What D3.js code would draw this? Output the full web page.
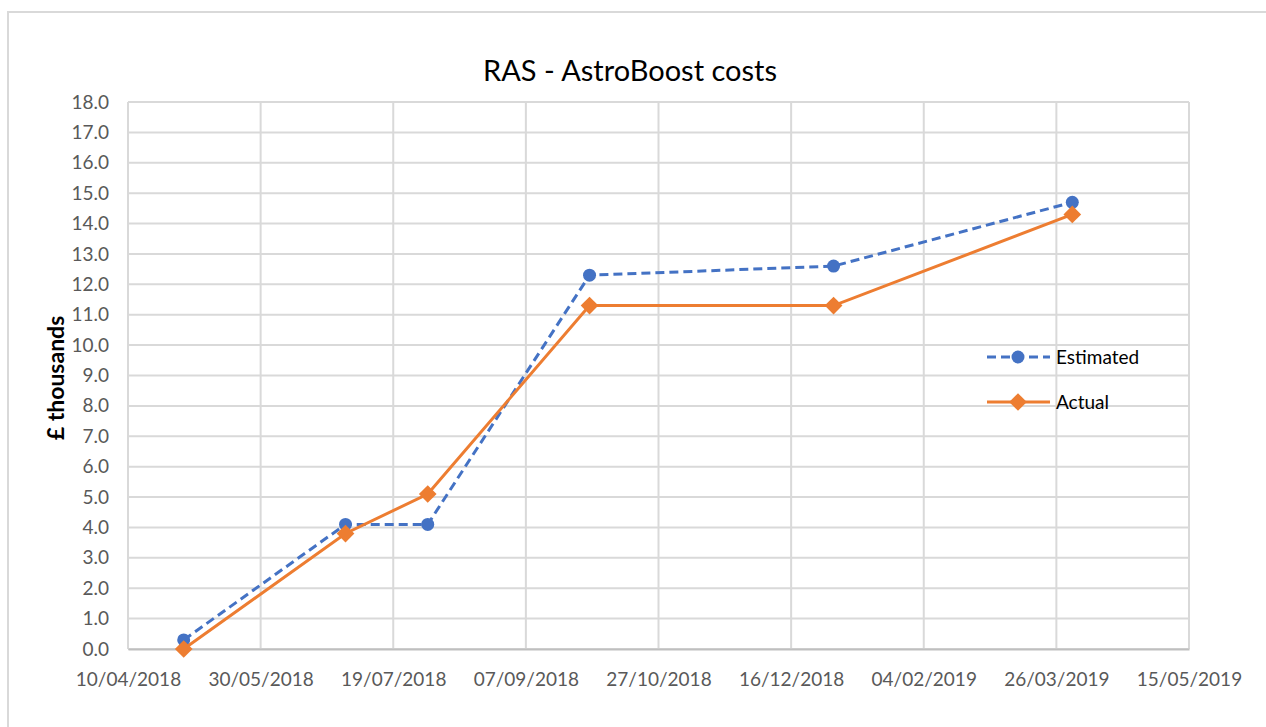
<!DOCTYPE html>
<html><head><meta charset="utf-8">
<script src="https://cdn.jsdelivr.net/npm/d3@7"></script>
<style>
html,body{margin:0;padding:0;background:#fff;}
svg{display:block;font-family:Lato, "Open Sans", sans-serif;}
</style></head>
<body><svg id="c" width="1266" height="727"></svg>
<script>
const dates = ["01/05/2018","01/07/2018","01/08/2018","01/10/2018","01/01/2019","01/04/2019"];
const estimated = [0.3, 4.1, 4.1, 12.3, 12.6, 14.7];
const actual = [0.0, 3.8, 5.1, 11.3, 11.3, 14.3];
const xTickLabels = ["10/04/2018","30/05/2018","19/07/2018","07/09/2018","27/10/2018","16/12/2018","04/02/2019","26/03/2019","15/05/2019"];
const yTicks = [0,1,2,3,4,5,6,7,8,9,10,11,12,13,14,15,16,17,18];
const seriesNames = ["Estimated","Actual"];

const parse = d3.timeParse("%d/%m/%Y");
const fmt = d3.timeFormat("%d/%m/%Y");
const svg = d3.select("#c");

// outer border
svg.append("rect").attr("x",8).attr("y",12).attr("width",1266).attr("height",727)
  .attr("fill","none").attr("stroke","#d9d9d9").attr("stroke-width",2);

const L=128, R=1189, T=102, B=649;
const x = d3.scaleTime().domain([parse(xTickLabels[0]), parse(xTickLabels[xTickLabels.length-1])]).range([L,R]);
const y = d3.scaleLinear().domain([0,18]).range([B,T]);

// gridlines
const g = svg.append("g");
g.selectAll("line.h").data(yTicks).enter().append("line")
  .attr("x1",L).attr("x2",R).attr("y1",d=>y(d)).attr("y2",d=>y(d))
  .attr("stroke","#d9d9d9").attr("stroke-width",2);
g.selectAll("line.v").data(xTickLabels.map(parse)).enter().append("line")
  .attr("x1",d=>x(d)).attr("x2",d=>x(d)).attr("y1",T).attr("y2",B)
  .attr("stroke","#d9d9d9").attr("stroke-width",2);

// axes
const xa = svg.append("g").attr("transform",`translate(0,${B})`)
  .call(d3.axisBottom(x).tickValues(xTickLabels.map(parse)).tickFormat(fmt).tickSize(0).tickPadding(24));
xa.select(".domain").attr("stroke","#bfbfbf").attr("stroke-width",2);
xa.selectAll("text").attr("fill","#595959").style("font-size","19px").style("font-family","Lato");

const ya = svg.append("g").attr("transform",`translate(${L},0)`)
  .call(d3.axisLeft(y).tickValues(yTicks).tickFormat(d3.format(".1f")).tickSize(0).tickPadding(19));
ya.select(".domain").remove();
ya.selectAll("text").attr("fill","#595959").style("font-size","19px").style("font-family","Lato");

// title
svg.append("text").attr("x",630).attr("y",81).attr("text-anchor","middle")
  .attr("fill","#000").style("font-size","29px").text("RAS - AstroBoost costs");

// y label
svg.append("text").attr("transform","translate(64,378) rotate(-90)").attr("text-anchor","middle")
  .attr("fill","#000").style("font-size","23px").style("font-weight","bold").text("£ thousands");

const blue="#4472C4", orange="#ED7D31";
const line = d3.line().x(d=>x(d[0])).y(d=>y(d[1]));
const estData = dates.map((d,i)=>[parse(d),estimated[i]]);
const actData = dates.map((d,i)=>[parse(d),actual[i]]);

svg.append("path").datum(estData).attr("d",line).attr("fill","none")
  .attr("stroke",blue).attr("stroke-width",3).attr("stroke-dasharray","9,5");
svg.selectAll("circle.e").data(estData).enter().append("circle")
  .attr("cx",d=>x(d[0])).attr("cy",d=>y(d[1])).attr("r",6.5).attr("fill",blue);

svg.append("path").datum(actData).attr("d",line).attr("fill","none")
  .attr("stroke",orange).attr("stroke-width",3);
const diamond = d3.symbol().type(d3.symbolDiamond2).size(200);
svg.selectAll("path.a").data(actData).enter().append("path")
  .attr("transform",d=>`translate(${x(d[0])},${y(d[1])})`).attr("d",diamond).attr("fill",orange);

// legend
const lg = svg.append("g");
const ly = [357, 402];
lg.append("line").attr("x1",987).attr("x2",1050).attr("y1",ly[0]).attr("y2",ly[0])
  .attr("stroke",blue).attr("stroke-width",3).attr("stroke-dasharray","9,5");
lg.append("circle").attr("cx",1018).attr("cy",ly[0]).attr("r",6.5).attr("fill",blue);
lg.append("line").attr("x1",987).attr("x2",1050).attr("y1",ly[1]).attr("y2",ly[1])
  .attr("stroke",orange).attr("stroke-width",3);
lg.append("path").attr("transform",`translate(1018,${ly[1]})`).attr("d",diamond).attr("fill",orange);
lg.selectAll("text").data(seriesNames).enter().append("text")
  .attr("x",1056).attr("y",(d,i)=>ly[i]).attr("dy","0.35em")
  .attr("fill","#000").style("font-size","19px").text(d=>d);
</script></body></html>
